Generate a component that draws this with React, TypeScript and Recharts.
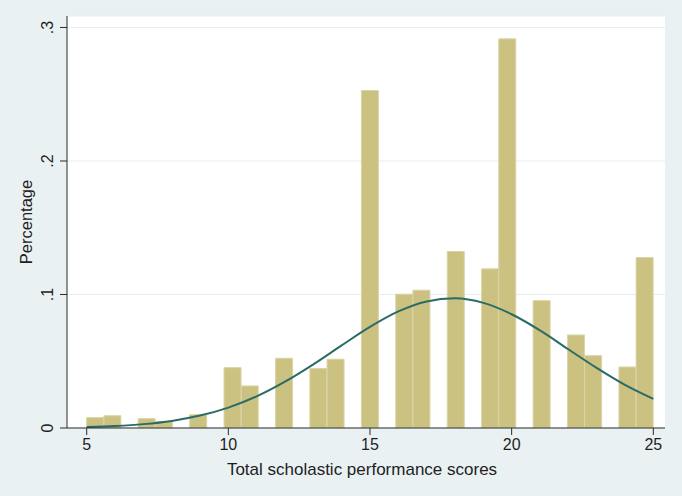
import React from 'react';
import { ComposedChart, Bar, Line, XAxis, YAxis, CartesianGrid, Label } from 'recharts';

// Integer scores and the histogram density read for each (one bin per score)
const scores = [5, 6, 7, 8, 9, 10, 11, 12, 13, 14, 15, 16, 17, 18, 19, 20, 21, 22, 23, 24, 25];
const density = [
  0.0078, 0.0092, 0.0070, 0.0048, 0.0100, 0.0452, 0.0315, 0.0522, 0.0445, 0.0515,
  0.2528, 0.1002, 0.1032, 0.1322, 0.1192, 0.2915, 0.0954, 0.0697, 0.0542, 0.0457, 0.1277,
];

// Normal-density overlay at each integer score
const curveX = [5, 6, 7, 8, 9, 10, 11, 12, 13, 14, 15, 16, 17, 18, 19, 20, 21, 22, 23, 24, 25];
const curveY = [
  0.0007, 0.0015, 0.0029, 0.0053, 0.0093, 0.0153, 0.0237, 0.0347, 0.0477, 0.0619,
  0.0757, 0.0873, 0.0948, 0.0971, 0.0937, 0.0852, 0.0731, 0.0590, 0.0450, 0.0323, 0.0218,
];

const xTicks = [5, 10, 15, 20, 25];
const yTicks = [0, 0.1, 0.2, 0.3];
const yTickLabels = ['0', '.1', '.2', '.3'];

const BIN_COUNT = 33;
const X_MIN = 5;
const X_MAX = 25;
const X_DOMAIN: [number, number] = [4.305, 25.413];
const Y_DOMAIN: [number, number] = [0, 0.3086];

const binWidth = (X_MAX - X_MIN) / BIN_COUNT;
const barData = scores.map((s, i) => {
  const bin = Math.min(BIN_COUNT - 1, Math.floor((s - X_MIN) / binWidth + 1e-9));
  return { mid: X_MIN + (bin + 0.5) * binWidth, density: density[i] };
});
const lineData = curveX.map((x, i) => ({ x, y: curveY[i] }));

const FONT = '"Liberation Sans", Arial, Helvetica, sans-serif';
const TEXT = '#1e1e1e';

const XTick = (props: any) => {
  const { x, y, payload } = props;
  return (
    <text x={x} y={y + 13} textAnchor="middle" fontFamily={FONT} fontSize={16} fill={TEXT}>
      {payload.value}
    </text>
  );
};

const YTick = (props: any) => {
  const { x, y, payload } = props;
  const idx = yTicks.indexOf(payload.value);
  const label = idx >= 0 ? yTickLabels[idx] : String(payload.value);
  const bx = x - 5;
  return (
    <text x={bx} y={y} transform={`rotate(-90 ${bx} ${y})`} textAnchor="middle" fontFamily={FONT} fontSize={16} fill={TEXT}>
      {label}
    </text>
  );
};

const YTitle = (props: any) => {
  const vb = props.viewBox || {};
  const x = vb.x + 31.5;
  const y = vb.y + vb.height / 2;
  return (
    <text x={x} y={y} transform={`rotate(-90 ${x} ${y})`} textAnchor="middle" fontFamily={FONT} fontSize={16.5} fill={TEXT}>
      Percentage
    </text>
  );
};

const XTitle = (props: any) => {
  const vb = props.viewBox || {};
  return (
    <text x={vb.x + vb.width / 2 - 4} y={vb.y + 47} textAnchor="middle" fontFamily={FONT} fontSize={17} fill={TEXT}>
      Total scholastic performance scores
    </text>
  );
};

export default function App() {
  return (
    <div style={{ position: 'absolute', left: 0, top: 0, width: 682, height: 496, background: '#EAF1F3' }}>
      <ComposedChart
        width={682}
        height={496}
        data={barData}
        margin={{ top: 16, right: 17, bottom: 0, left: 0 }}
        barCategoryGap={0}
        barGap={0}
      >
        <CartesianGrid xAxisId="main" horizontal vertical={false} fill="#ffffff" stroke="#E6EEF1" strokeWidth={1.2} />
        <XAxis xAxisId="bins" type="number" dataKey="mid" domain={X_DOMAIN} allowDataOverflow hide height={0} />
        <XAxis
          xAxisId="main"
          type="number"
          dataKey="x"
          domain={X_DOMAIN}
          allowDataOverflow
          ticks={xTicks}
          interval={0}
          height={68}
          tickSize={7}
          stroke="#2a2a2a"
          tick={<XTick />}
        >
          <Label content={<XTitle />} />
        </XAxis>
        <YAxis
          type="number"
          domain={Y_DOMAIN}
          allowDataOverflow
          ticks={yTicks}
          interval={0}
          width={67}
          tickSize={7}
          stroke="#2a2a2a"
          tick={<YTick />}
        >
          <Label content={<YTitle />} />
        </YAxis>
        <Bar
          xAxisId="bins"
          dataKey="density"
          fill="#CBC281"
          stroke="#DAD4A6"
          strokeWidth={1}
          isAnimationActive={false}
        />
        <Line
          xAxisId="main"
          data={lineData}
          dataKey="y"
          type="monotone"
          stroke="#2B6B66"
          strokeWidth={2}
          dot={false}
          activeDot={false}
          isAnimationActive={false}
        />
      </ComposedChart>
    </div>
  );
}
